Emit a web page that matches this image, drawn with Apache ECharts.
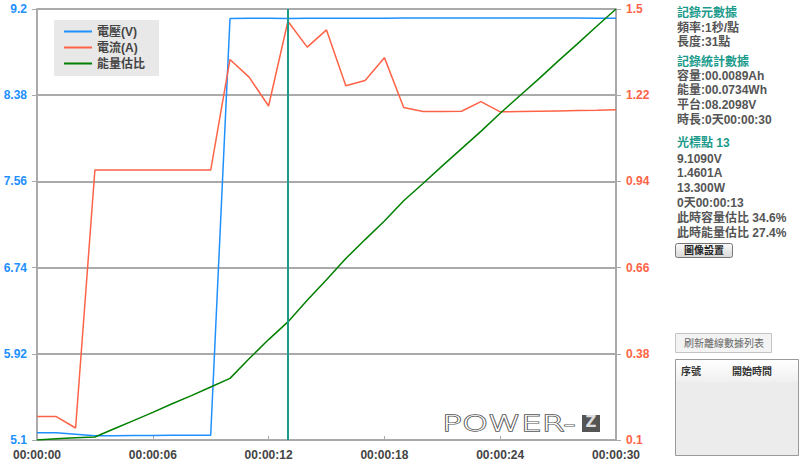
<!DOCTYPE html>
<html><head><meta charset="utf-8">
<script src="https://cdn.jsdelivr.net/npm/echarts@6/dist/echarts.min.js"></script>
<style>html,body{margin:0;padding:0;background:#fff}#c{width:800px;height:464px}</style>
</head><body><div id="c"></div>
<script>
const seconds = [0,1,2,3,4,5,6,7,8,9,10,11,12,13,14,15,16,17,18,19,20,21,22,23,24,25,26,27,28,29,30];
const voltage = [5.17,5.17,5.155,5.14,5.14,5.142,5.143,5.144,5.145,5.145,9.11,9.112,9.111,9.109,9.112,9.111,9.112,9.113,9.113,9.114,9.114,9.114,9.114,9.115,9.114,9.114,9.114,9.114,9.114,9.113,9.113];
const current = [0.176,0.176,0.139,0.977,0.977,0.977,0.977,0.977,0.977,0.977,1.336,1.278,1.185,1.4601,1.376,1.432,1.251,1.268,1.342,1.180,1.167,1.167,1.168,1.199,1.166,1.167,1.168,1.169,1.170,1.171,1.173];
const energyPct = [0,0.3,0.55,0.7,2.6,4.5,6.4,8.4,10.3,12.3,14.3,18.9,23.3,27.4,32.4,37.2,42.1,46.5,50.8,55.5,59.5,63.6,67.6,71.6,75.8,79.8,83.8,87.9,91.9,96.0,100];
const seriesNames = ['電壓(V)','電流(A)','能量估比'];
const leftTicks = {min:5.1, max:9.2, step:0.82};
const rightTicks = {min:0.1, max:1.5, step:0.28};
const cursorAt = 13;
const panelLines = [
  ['記錄元數據', true], ['頻率:1秒/點', false], ['長度:31點', false],
  ['記錄統計數據', true], ['容量:00.0089Ah', false], ['能量:00.0734Wh', false], ['平台:08.2098V', false], ['時長:0天00:00:30', false],
  ['光標點 13', true], ['9.1090V', false], ['1.4601A', false], ['13.300W', false], ['0天00:00:13', false], ['此時容量估比 34.6%', false], ['此時能量估比 27.4%', false]
];
const panelY = [13,28,42,62,76,90,105,120,143,159,173,188,203,218,233];

const PF = "'Liberation Sans','Noto Sans CJK TC',sans-serif";
const pad = n => (n < 10 ? '0' : '') + n;
const fmtTime = v => { v = Math.round(v); return '00:' + pad(Math.floor(v/60)) + ':' + pad(v%60); };
const pair = arr => seconds.map((t,i) => [t, arr[i]]);
const GRID = '#aaaaaa';
const TEAL = '#1a9a8b';

const graphics = [];
panelLines.forEach((l, i) => {
  graphics.push({type:'text', x:677, y:panelY[i], silent:true,
    style:{text:l[0], fill: l[1] ? TEAL : '#555', font:'bold 12px ' + PF, verticalAlign:'middle', lineHeight:12}});
});
// buttons
graphics.push({type:'rect', shape:{x:675.5,y:243.5,width:57,height:14,r:2},
  style:{fill:new echarts.graphic.LinearGradient(0,0,0,1,[{offset:0,color:'#fafafa'},{offset:1,color:'#d8d8d8'}]), stroke:'#777', lineWidth:1}});
graphics.push({type:'text', x:684, y:250.5, style:{text:'圖像設置', fill:'#222', font:'bold 10px ' + PF, verticalAlign:'middle'}});
graphics.push({type:'rect', shape:{x:675.5,y:333.5,width:96,height:19},
  style:{fill:'#f3f3f3', stroke:'#c4c4c4', lineWidth:1}});
graphics.push({type:'text', x:684, y:343, style:{text:'刷新離線數據列表', fill:'#666', font:'10px ' + PF, verticalAlign:'middle'}});
// table
graphics.push({type:'rect', shape:{x:675.5,y:359.5,width:123,height:96},
  style:{fill:'#ececec', stroke:'#9a9a9a', lineWidth:1}});
graphics.push({type:'rect', shape:{x:676,y:360,width:122,height:22},
  style:{fill:new echarts.graphic.LinearGradient(0,0,0,1,[{offset:0,color:'#ffffff'},{offset:1,color:'#f0f0f0'}])}});
graphics.push({type:'text', x:681, y:371, style:{text:'序號', fill:'#333', font:'bold 10px ' + PF, verticalAlign:'middle'}});
graphics.push({type:'text', x:732, y:371, style:{text:'開始時間', fill:'#333', font:'bold 10px ' + PF, verticalAlign:'middle'}});
// logo
graphics.push({type:'text', x:442, y:413, scaleX:1.58, scaleY:1, silent:true,
  style:{text:'POWER-', fill:'#ffffff', stroke:'#555', lineWidth:1.3, font:'300 21px DejaVu Sans'}});
graphics.push({type:'rect', shape:{x:582,y:415,width:18,height:17}, style:{fill:'#555'}});
graphics.push({type:'text', x:585.5, y:414, style:{text:'Z', fill:'#ddd', font:'bold 15px DejaVu Sans'}});

const chart = echarts.init(document.getElementById('c'), null, {renderer:'svg'});
chart.setOption({
  animation:false,
  backgroundColor:'#fff',
  grid:{left:37, right:184, top:9, bottom:24},
  legend:{
    left:54, top:20, orient:'vertical', backgroundColor:'#e8e8e8',
    padding:[5,14,6,9], itemGap:3, itemWidth:28, itemHeight:14,
    itemStyle:{opacity:0},
    lineStyle:{width:2},
    textStyle:{color:'#444', fontWeight:'bold', fontSize:12, fontFamily:PF, lineHeight:13},
    data:seriesNames
  },
  xAxis:{
    type:'value', min:0, max:30, interval:6,
    axisLine:{show:true, lineStyle:{color:GRID, width:2}},
    axisTick:{show:true, inside:true, length:4, lineStyle:{color:GRID, width:1}},
    axisLabel:{formatter:fmtTime, color:'#444', fontWeight:'bold', fontSize:12, fontFamily:PF, margin:9},
    splitLine:{show:false}
  },
  yAxis:[
    {type:'value', position:'left', min:leftTicks.min, max:leftTicks.max, interval:leftTicks.step,
     axisLine:{show:true, lineStyle:{color:GRID, width:2}},
     axisTick:{show:true, inside:false, length:5, lineStyle:{color:GRID}},
     axisLabel:{formatter:v => String(+v.toFixed(2)), color:'#1e90ff', fontWeight:'bold', fontSize:12, fontFamily:PF, margin:10},
     splitLine:{show:true, lineStyle:{color:GRID, width:2}}},
    {type:'value', position:'right', min:rightTicks.min, max:rightTicks.max, interval:rightTicks.step,
     axisLine:{show:true, lineStyle:{color:GRID, width:2}},
     axisTick:{show:true, inside:false, length:5, lineStyle:{color:GRID}},
     axisLabel:{formatter:v => String(+v.toFixed(2)), color:'#ff6347', fontWeight:'bold', fontSize:12, fontFamily:PF, margin:10},
     splitLine:{show:false}},
    {type:'value', position:'right', min:0, max:100, show:false, splitLine:{show:false}}
  ],
  series:[
    {name:seriesNames[0], type:'line', yAxisIndex:0, data:pair(voltage), symbol:'none',
     lineStyle:{color:'#1e90ff', width:1.5}, itemStyle:{color:'#1e90ff'},
     markLine:{silent:true, symbol:'none', label:{show:false},
       lineStyle:{color:TEAL, width:2, type:'solid'}, data:[{xAxis:cursorAt}]}},
    {name:seriesNames[1], type:'line', yAxisIndex:1, data:pair(current), symbol:'none',
     lineStyle:{color:'#ff6347', width:1.5}, itemStyle:{color:'#ff6347'}},
    {name:seriesNames[2], type:'line', yAxisIndex:2, data:pair(energyPct), symbol:'none',
     lineStyle:{color:'#008000', width:1.5}, itemStyle:{color:'#008000'}}
  ],
  graphic:graphics
});
</script>
</body></html>
